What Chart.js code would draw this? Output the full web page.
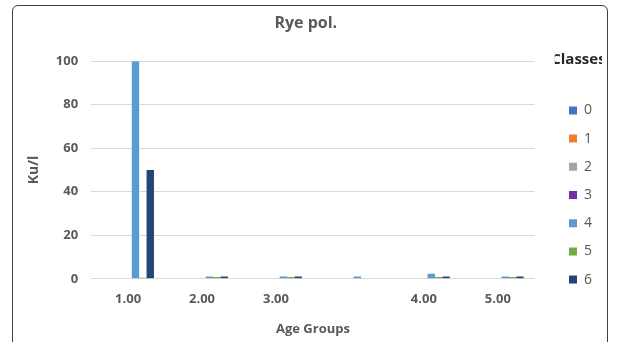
<!DOCTYPE html>
<html>
<head>
<meta charset="utf-8">
<script src="https://cdn.jsdelivr.net/npm/chart.js@4"></script>
<style>
  html, body { margin: 0; padding: 0; background: #fff; }
  #frame {
    position: absolute; left: 12px; top: 5px; width: 596px; height: 400px;
    border: 1px solid #404040; border-radius: 6px; overflow: hidden; box-sizing: border-box;
  }
  #wrap { position: absolute; left: 0; top: 0; width: 594px; height: 336px; }
</style>
</head>
<body>
<div id="frame"><div id="wrap"><canvas id="ryeChart"></canvas></div></div>
<script>
  // Age groups (the 4th group has no label in the source)
  var ageGroups = ["1.00", "2.00", "3.00", "", "4.00", "5.00"];
  var classNames = ["0", "1", "2", "3", "4", "5", "6"];
  var classColors = ["#4472C4", "#ED7D31", "#A5A5A5", "#7030A0", "#5B9BD5", "#70AD47", "#264478"];

  // Ku/l per class
  var class0 = [0, 0, 0, 0, 0, 0];
  var class1 = [0, 0, 0, 0, 0, 0];
  var class2 = [0, 0, 0, 0, 0, 0];
  var class3 = [0, 0, 0, 0, 0, 0];
  var class4 = [100, 1, 1, 1, 2.3, 1];
  var class5 = [0.5, 0.8, 0.8, 0, 0.8, 0.8];
  var class6 = [50, 1, 1, 0, 1, 1];
  var classValues = [class0, class1, class2, class3, class4, class5, class6];

  var textGray = "#595959";
  var fontFam = "'Open Sans', sans-serif";

  var datasets = classNames.map(function (name, i) {
    return {
      label: name,
      data: classValues[i],
      backgroundColor: classColors[i],
      borderWidth: 0,
      barPercentage: 1,
      categoryPercentage: 0.7
    };
  });

  var ctx = document.getElementById("ryeChart").getContext("2d");
  var chart = new Chart(ctx, {
    type: "bar",
    data: { labels: ageGroups, datasets: datasets },
    options: {
      responsive: true,
      maintainAspectRatio: false,
      animation: false,
      layout: { padding: { left: 9, right: 5, top: 8, bottom: 3 } },
      plugins: {
        title: {
          display: true,
          text: "Rye pol.   ", // trailing spaces nudge the title a bit left, like the original
          color: textGray,
          font: { family: fontFam, size: 16, weight: "bold" },
          padding: { top: 0, bottom: 28 }
        },
        legend: {
          position: "right",
          title: {
            display: true,
            text: "Classes",
            color: "#262626",
            font: { family: fontFam, size: 15, weight: "bold" },
            padding: { top: 0, bottom: 19 }
          },
          labels: {
            boxWidth: 8,
            boxHeight: 8,
            padding: 14.2,
            color: textGray,
            font: { family: fontFam, size: 14 }
          }
        },
        tooltip: { enabled: false }
      },
      scales: {
        x: {
          grid: { display: false },
          border: { display: false },
          ticks: { color: textGray, font: { family: fontFam, size: 13, weight: "bold" }, padding: 5 },
          title: {
            display: true,
            text: "Age Groups",
            color: textGray,
            font: { family: fontFam, size: 13, weight: "bold" },
            padding: { top: 9, bottom: 2 }
          }
        },
        y: {
          min: 0,
          max: 100,
          ticks: { stepSize: 20, color: textGray, font: { family: fontFam, size: 13, weight: "bold" }, padding: 13 },
          grid: { color: "#d9d9d9", drawTicks: false },
          border: { display: false },
          title: {
            display: true,
            text: "Ku/l",
            color: textGray,
            font: { family: fontFam, size: 14, weight: "bold" },
            padding: { top: 4, bottom: 0 }
          }
        },
        // empty axis that only keeps a gap between the plot and the legend
        gap: {
          position: "right",
          display: true,
          grid: { display: false },
          border: { display: false },
          ticks: { display: false },
          afterFit: function (scale) { scale.width = 20; }
        }
      }
    }
  });
</script>
</body>
</html>
